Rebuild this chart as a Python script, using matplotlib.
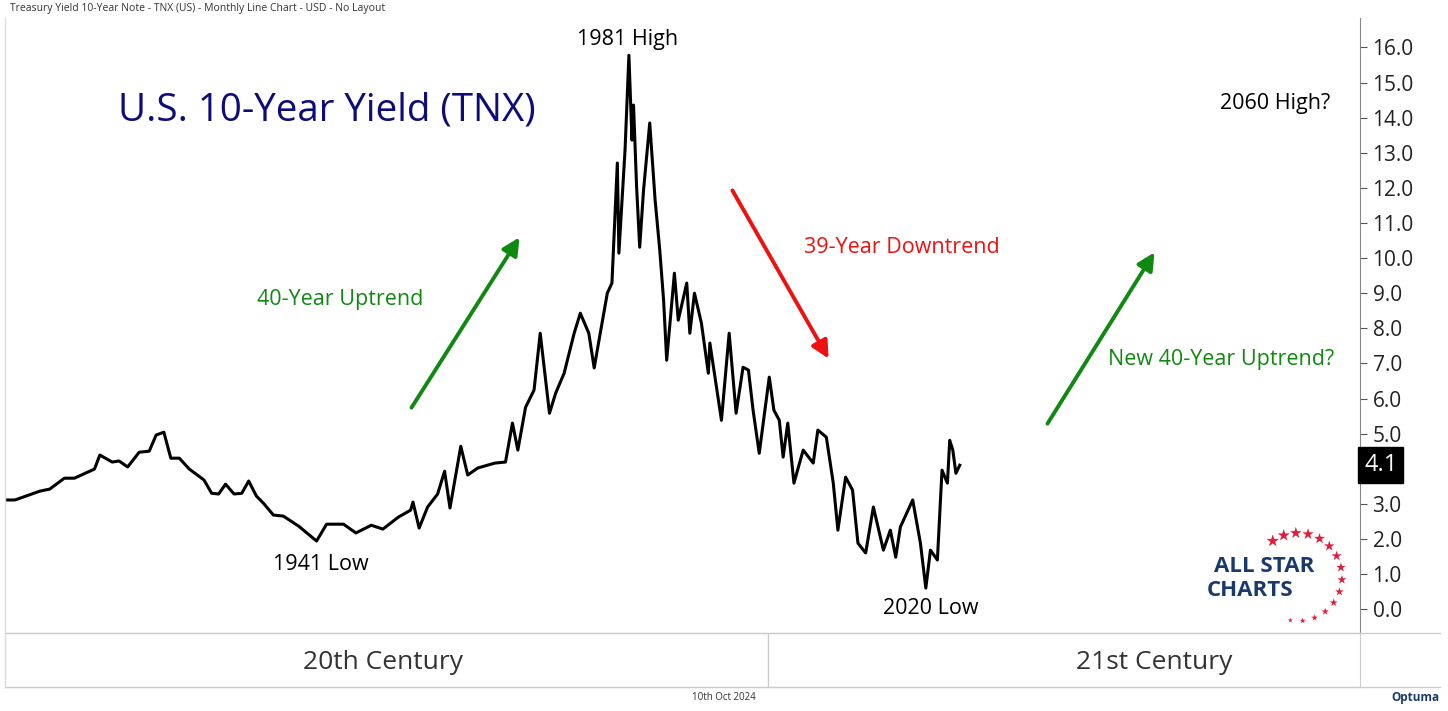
import matplotlib.pyplot as plt
import numpy as np

plt.rcParams["font.family"] = ["Open Sans", "DejaVu Sans"]

# monthly TNX (year, yield %)
years = [1901.0, 1902.3, 1905.5, 1906.8, 1908.7, 1910.0, 1912.6, 1913.3, 1914.9, 1915.8,
         1916.9, 1918.4, 1919.7, 1920.6, 1921.6, 1922.5, 1923.6, 1924.9, 1926.8, 1927.8,
         1928.7, 1929.6, 1930.7, 1931.7, 1932.6, 1933.6, 1934.5, 1935.8, 1937.1, 1939.1,
         1941.4, 1942.7, 1944.9, 1946.5, 1948.5, 1950.0, 1952.0, 1953.6, 1953.9, 1954.7,
         1955.8, 1957.1, 1958.0, 1958.7, 1960.1, 1961.0, 1962.3, 1964.5, 1965.9, 1966.8,
         1967.5, 1968.5, 1969.6, 1970.4, 1971.6, 1972.4, 1973.5, 1974.8, 1975.6, 1976.7,
         1977.4, 1977.8, 1979.1, 1979.7, 1980.4, 1980.6, 1981.4, 1981.9, 1982.3, 1982.5,
         1982.9, 1983.3, 1983.8, 1984.6, 1985.3, 1985.9, 1986.4, 1986.8, 1987.8, 1988.3,
         1989.4, 1989.8, 1990.4, 1991.3, 1992.2, 1992.4, 1993.9, 1994.9, 1995.8, 1996.7,
         1997.4, 1998.0, 1998.8, 2000.1, 2000.7, 2001.4, 2001.9, 2002.5, 2003.3, 2004.5,
         2005.8, 2006.4, 2007.5, 2008.4, 2009.0, 2010.0, 2010.9, 2011.6, 2012.6, 2013.6,
         2014.9, 2015.8, 2016.5, 2017.1, 2018.7, 2019.7, 2020.4, 2021.0, 2021.9, 2022.5,
         2023.2, 2023.5, 2023.9, 2024.3, 2024.8]
yields = [3.11, 3.11, 3.36, 3.42, 3.73, 3.73, 3.99, 4.39, 4.19, 4.22,
          4.05, 4.47, 4.50, 4.96, 5.04, 4.30, 4.30, 3.99, 3.68, 3.30,
          3.28, 3.56, 3.28, 3.30, 3.65, 3.22, 3.02, 2.68, 2.65, 2.36,
          1.94, 2.42, 2.42, 2.17, 2.39, 2.28, 2.62, 2.82, 3.05, 2.31,
          2.91, 3.28, 3.93, 2.88, 4.64, 3.82, 4.02, 4.16, 4.19, 5.30,
          4.53, 5.75, 6.24, 7.86, 5.58, 6.15, 6.72, 7.86, 8.43, 7.86,
          6.87, 7.38, 9.00, 9.29, 12.71, 10.14, 13.08, 15.78, 13.36, 14.36,
          12.02, 10.31, 11.94, 13.85, 11.65, 10.23, 8.80, 7.09, 9.57, 8.23,
          9.29, 7.86, 9.00, 8.15, 6.72, 7.58, 5.38, 7.86, 5.58, 6.89,
          6.81, 5.67, 4.44, 6.61, 5.67, 5.38, 4.33, 5.30, 3.59, 4.53,
          4.16, 5.10, 4.90, 3.59, 2.25, 3.76, 3.39, 1.88, 1.60, 2.91,
          1.68, 2.25, 1.48, 2.34, 3.11, 1.88, 0.60, 1.68, 1.40, 3.96,
          3.59, 4.81, 4.53, 3.87, 4.10]
yticks = np.arange(0, 16.5, 1.0)
last_value = 4.1

W, H = 1448, 711
fig = plt.figure(figsize=(W / 100, H / 100), dpi=100)

def fx(px):
    return px / W

def fy(py):
    return 1 - py / H

ax = fig.add_axes([fx(5), fy(633), fx(1360) - fx(5), fy(18) - fy(633)])
ax.plot(years, yields, color="black", lw=2.2)
ax.set_xlim(1901, 2076.7)
ax.set_ylim(-0.68, 16.84)
ax.yaxis.tick_right()
ax.set_yticks(yticks)
# the 4.0 label sits under the last-value box
ax.set_yticklabels(["" if v == 4 else f"{v:.1f}" for v in yticks], fontsize=15, color="#222222")
ax.tick_params(axis="y", length=5, color="#555555", pad=4)
ax.set_xticks([])
for s in ["top", "left", "bottom"]:
    ax.spines[s].set_visible(False)
ax.spines["right"].set_color("#888888")

# last value box
ax.text(1.003, last_value, "4.1", transform=ax.get_yaxis_transform(), ha="left", va="center",
        fontsize=17, color="white", bbox=dict(boxstyle="square,pad=0.25", fc="black", ec="black"))

# century band
band = fig.add_axes([fx(5), fy(687), fx(1360) - fx(5), fy(633) - fy(687)])
band.set_xlim(1901, 2076.7)
band.set_ylim(0, 1)
band.axvline(2000, color="#cccccc", lw=1)
band.text(1950, 0.45, "20th Century", ha="center", va="center", fontsize=19, color="#333333")
band.text(2050, 0.45, "21st Century", ha="center", va="center", fontsize=19, color="#333333")
band.set_xticks([])
band.set_yticks([])
for s in band.spines.values():
    s.set_color("#cccccc")
fig.add_artist(plt.Line2D([fx(5), fx(1440)], [fy(633), fy(633)], color="#cccccc", lw=1))
fig.add_artist(plt.Line2D([fx(5), fx(1440)], [fy(687), fy(687)], color="#cccccc", lw=1))
fig.add_artist(plt.Line2D([fx(5), fx(5)], [fy(18), fy(687)], color="#dddddd", lw=1))

# header and footer
fig.text(fx(10), fy(9), "Treasury Yield 10-Year Note - TNX (US) - Monthly Line Chart - USD - No Layout",
         fontsize=7.5, color="#333333", va="center")
fig.text(fx(724), fy(697), "10th Oct 2024", fontsize=7, color="#333333", ha="center", va="center")
fig.text(fx(1440), fy(698), "Optuma", fontsize=8.5, color="#1a3a6e", ha="right", va="center", weight="bold")

# annotations
fig.text(fx(118), fy(110), "U.S. 10-Year Yield (TNX)", fontsize=27.7, color="#0d0d7a", va="center")
fig.text(fx(628), fy(40), "1981 High", fontsize=15.5, ha="center", va="center")
fig.text(fx(321), fy(565), "1941 Low", fontsize=15.5, ha="center", va="center")
fig.text(fx(931), fy(608), "2020 Low", fontsize=15.5, ha="center", va="center")
fig.text(fx(1275), fy(103), "2060 High?", fontsize=15.5, ha="center", va="center")
fig.text(fx(340), fy(300), "40-Year Uptrend", fontsize=15.5, color="#118811", ha="center", va="center")
fig.text(fx(902), fy(247), "39-Year Downtrend", fontsize=15.5, color="#ee1111", ha="center", va="center")
fig.text(fx(1221), fy(360), "New 40-Year Uptrend?", fontsize=15.5, color="#118811", ha="center", va="center")

arrows = [((410, 410), (521, 235), "#118811"),
          ((731, 188), (830, 361), "#ee1111"),
          ((1046, 426), (1156, 250), "#118811")]
for (x0, y0), (x1, y1), c in arrows:
    fig.add_artist(plt.matplotlib.patches.FancyArrowPatch(
        (fx(x0), fy(y0)), (fx(x1), fy(y1)), transform=fig.transFigure,
        arrowstyle="-|>,head_length=8,head_width=4", color=c, lw=2.8, mutation_scale=1.3))

# logo
fig.text(fx(1264), fy(567), "ALL STAR", fontsize=16, color="#1a3a6e", weight="bold", ha="center", va="center")
fig.text(fx(1250), fy(591), "CHARTS", fontsize=16, color="#1a3a6e", weight="bold", ha="center", va="center")
ang = np.linspace(125, -100, 15)
sx = 1298 + 44 * np.cos(np.radians(ang))
sy = 577 - 44 * np.sin(np.radians(ang))
sizes = np.linspace(90, 15, 15)
axl = fig.add_axes([0, 0, 1, 1], facecolor="none")
axl.set_xlim(0, W)
axl.set_ylim(H, 0)
axl.axis("off")
axl.scatter(sx, sy, s=sizes, marker="*", color="#e01e3c", lw=0)

fig.savefig("out.png", dpi=100)
